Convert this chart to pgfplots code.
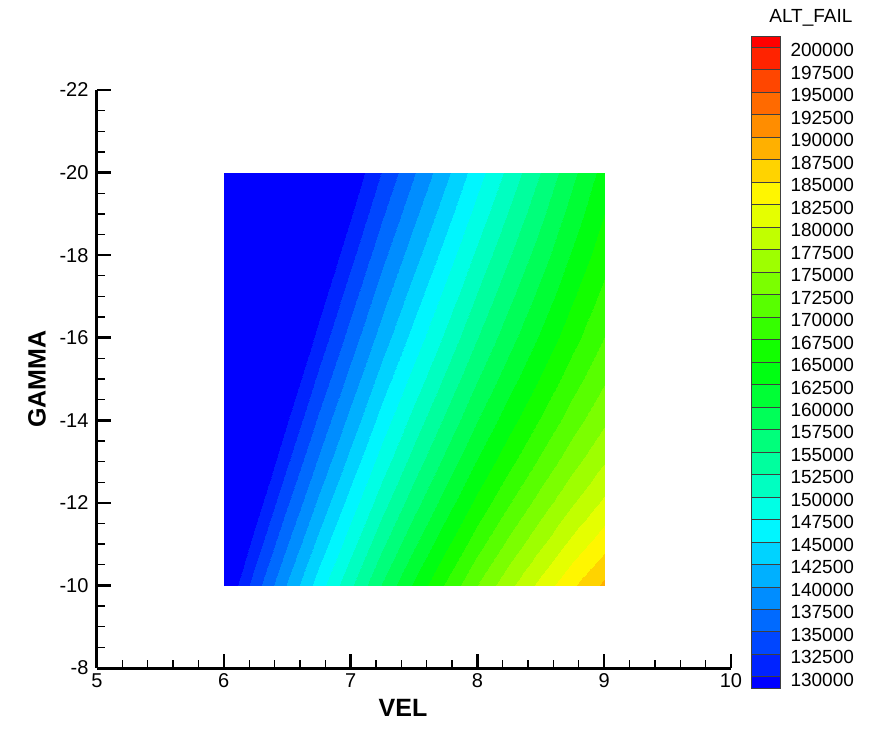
\documentclass[border=0pt]{standalone}
\usepackage{fontspec}
\setmainfont{Liberation Sans}
\usepackage{pgfplots}
\pgfplotsset{compat=1.18}
\pgfplotsset{
 colormap={tecmain}{rgb255(100)=(0,0,255) rgb255(130)=(0,35,255) rgb255(132.5)=(0,70,255) rgb255(135)=(0,106,255) rgb255(137.5)=(0,141,255) rgb255(140)=(0,176,255) rgb255(142.5)=(0,211,255) rgb255(145)=(0,246,255) rgb255(147.5)=(0,255,229) rgb255(150)=(0,255,193) rgb255(152.5)=(0,255,158) rgb255(155)=(0,255,123) rgb255(157.5)=(0,255,88) rgb255(160)=(0,255,53) rgb255(162.5)=(0,255,18) rgb255(165)=(18,255,0) rgb255(167.5)=(53,255,0) rgb255(170)=(88,255,0) rgb255(172.5)=(123,255,0) rgb255(175)=(158,255,0) rgb255(177.5)=(193,255,0) rgb255(180)=(229,255,0) rgb255(182.5)=(255,246,0) rgb255(185)=(255,211,0) rgb255(187.5)=(255,176,0) rgb255(190)=(255,141,0) rgb255(192.5)=(255,106,0) rgb255(195)=(255,70,0) rgb255(197.5)=(255,35,0) rgb255(200)=(255,0,0) rgb255(201.25)=(255,0,0)},
 colormap={tecbar}{rgb255(128.75)=(0,0,255) rgb255(130)=(0,35,255) rgb255(132.5)=(0,70,255) rgb255(135)=(0,106,255) rgb255(137.5)=(0,141,255) rgb255(140)=(0,176,255) rgb255(142.5)=(0,211,255) rgb255(145)=(0,246,255) rgb255(147.5)=(0,255,229) rgb255(150)=(0,255,193) rgb255(152.5)=(0,255,158) rgb255(155)=(0,255,123) rgb255(157.5)=(0,255,88) rgb255(160)=(0,255,53) rgb255(162.5)=(0,255,18) rgb255(165)=(18,255,0) rgb255(167.5)=(53,255,0) rgb255(170)=(88,255,0) rgb255(172.5)=(123,255,0) rgb255(175)=(158,255,0) rgb255(177.5)=(193,255,0) rgb255(180)=(229,255,0) rgb255(182.5)=(255,246,0) rgb255(185)=(255,211,0) rgb255(187.5)=(255,176,0) rgb255(190)=(255,141,0) rgb255(192.5)=(255,106,0) rgb255(195)=(255,70,0) rgb255(197.5)=(255,35,0) rgb255(200)=(255,0,0) rgb255(201.25)=(255,0,0)},
}
\pgfplotstableread{
v g f
6.00 -20 108910
6.25 -20 113660
6.50 -20 118410
6.75 -20 123160
7.00 -20 127910
7.25 -20 132647
7.50 -20 137307
7.75 -20 141884
8.00 -20 146375
8.25 -20 150783
8.50 -20 155106
8.75 -20 159345
9.00 -20 163499
6.00 -19 110184
6.25 -19 115089
6.50 -19 119994
6.75 -19 124899
7.00 -19 129804
7.25 -19 134650
7.50 -19 139367
7.75 -19 143955
8.00 -19 148414
8.25 -19 152745
8.50 -19 156947
8.75 -19 161021
9.00 -19 164965
6.00 -18 111545
6.25 -18 116615
6.50 -18 121685
6.75 -18 126755
7.00 -18 131814
7.25 -18 136739
7.50 -18 141496
7.75 -18 146085
8.00 -18 150505
8.25 -18 154756
8.50 -18 158840
8.75 -18 162755
9.00 -18 166501
6.00 -17 113006
6.25 -17 118251
6.50 -17 123496
6.75 -17 128741
7.00 -17 133928
7.25 -17 138917
7.50 -17 143705
7.75 -17 148290
8.00 -17 152672
8.25 -17 156852
8.50 -17 160829
8.75 -17 164604
9.00 -17 168176
6.00 -16 114579
6.25 -16 120009
6.50 -16 125439
6.75 -16 130866
7.00 -16 136143
7.25 -16 141187
7.50 -16 146000
7.75 -16 150580
8.00 -16 154929
8.25 -16 159045
8.50 -16 162929
8.75 -16 166581
9.00 -16 170001
6.00 -15 116275
6.25 -15 121900
6.50 -15 127525
6.75 -15 133110
7.00 -15 138465
7.25 -15 143564
7.50 -15 148409
7.75 -15 152999
8.00 -15 157334
8.25 -15 161413
8.50 -15 165238
8.75 -15 168808
9.00 -15 172122
6.00 -14 118107
6.25 -14 123937
6.50 -14 129767
6.75 -14 135471
7.00 -14 140902
7.25 -14 146059
7.50 -14 150943
7.75 -14 155553
8.00 -14 159889
8.25 -14 163953
8.50 -14 167742
8.75 -14 171258
9.00 -14 174501
6.00 -13 120086
6.25 -13 126131
6.50 -13 132158
6.75 -13 137957
7.00 -13 143472
7.25 -13 148702
7.50 -13 153647
7.75 -13 158307
8.00 -13 162682
8.25 -13 166772
8.50 -13 170577
8.75 -13 174097
9.00 -13 177332
6.00 -12 122225
6.25 -12 128495
6.50 -12 134680
6.75 -12 140581
7.00 -12 146189
7.25 -12 151504
7.50 -12 156526
7.75 -12 161254
8.00 -12 165690
8.25 -12 169833
8.50 -12 173683
8.75 -12 177240
9.00 -12 180504
6.00 -11 124536
6.25 -11 131037
6.50 -11 137346
6.75 -11 143357
7.00 -11 149071
7.25 -11 154487
7.50 -11 159605
7.75 -11 164427
8.00 -11 168950
8.25 -11 173176
8.50 -11 177105
8.75 -11 180736
9.00 -11 184070
6.00 -10 127030
6.25 -10 133733
6.50 -10 140165
6.75 -10 146298
7.00 -10 152131
7.25 -10 157664
7.50 -10 162897
7.75 -10 167830
8.00 -10 172464
8.25 -10 176798
8.50 -10 180832
8.75 -10 184567
9.00 -10 188002
}\altdata
\pgfplotstableread{
x y m
0 128750 128750
1 128750 128750
0 201250 201250
1 201250 201250
}\bardata
\begin{document}
\begin{tikzpicture}
\useasboundingbox (0,0) rectangle (871pt,745pt);
\begin{axis}[
 at={(97pt,77pt)}, anchor=south west, scale only axis,
 width=634pt, height=578pt,
 xmin=5, xmax=10, ymin=-22, ymax=-8, y dir=reverse,
 axis x line*=bottom, axis y line*=left,
 axis line style={line width=3pt, black},
 xtick={5,6,7,8,9,10}, xticklabels={5,6,7,8,9,10},
 ytick={-22,-20,-18,-16,-14,-12,-10,-8},
 yticklabels={-22,-20,-18,-16,-14,-12,-10,-8},
 minor x tick num=4, minor y tick num=3,
 tick align=inside, major tick length=14pt, minor tick length=8pt,
 every major tick/.style={line width=2.5pt, black},
 every minor tick/.style={line width=1.3pt, black},
 tick label style={font=\fontsize{20}{22}\selectfont},
 xticklabel style={yshift=-2pt},
 yticklabel style={xshift=-5pt},
 xlabel={VEL}, ylabel={GAMMA},
 label style={font=\bfseries\fontsize{25}{28}\selectfont},
 xlabel style={at={(axis description cs:0.4826,-0.0692)}, anchor=center},
 ylabel style={at={(axis description cs:-0.0946,0.5)}, anchor=center},
 colormap name=tecmain, colormap access=piecewise constant,
 point meta min=100000, point meta max=201250,
 axis on top,
]
\addplot[surf, shader=interp, mesh/cols=13, point meta=explicit] table[x=v, y=g, meta=f] {\altdata};
\end{axis}
\begin{axis}[
 at={(751pt,57pt)}, anchor=south west, scale only axis,
 width=29pt, height=652pt,
 xmin=0, xmax=1, ymin=128750, ymax=201250,
 xtick=\empty,
 ytick={130000,132500,135000,137500,140000,142500,145000,147500,150000,152500,155000,157500,160000,162500,165000,167500,170000,172500,175000,177500,180000,182500,185000,187500,190000,192500,195000,197500,200000},
 yticklabels={130000,132500,135000,137500,140000,142500,145000,147500,150000,152500,155000,157500,160000,162500,165000,167500,170000,172500,175000,177500,180000,182500,185000,187500,190000,192500,195000,197500,200000},
 yticklabel pos=right, major tick length=0pt, scaled y ticks=false,
 ymajorgrids, major grid style={black!75, line width=0.6pt},
 axis line style={black!75, line width=0.8pt},
 yticklabel style={font=\fontsize{19}{21}\selectfont, xshift=7pt, yshift=-3pt},
 colormap name=tecbar, colormap access=piecewise constant,
 point meta min=128750, point meta max=201250,
 axis on top,
 title={ALT\_FAIL},
 title style={at={(axis description cs:3.62,1.018)}, anchor=east, font=\fontsize{19}{21}\selectfont},
]
\addplot[surf, shader=interp, mesh/cols=2, point meta=explicit] table[x=x, y=y, meta=m] {\bardata};
\end{axis}
\end{tikzpicture}
\end{document}
